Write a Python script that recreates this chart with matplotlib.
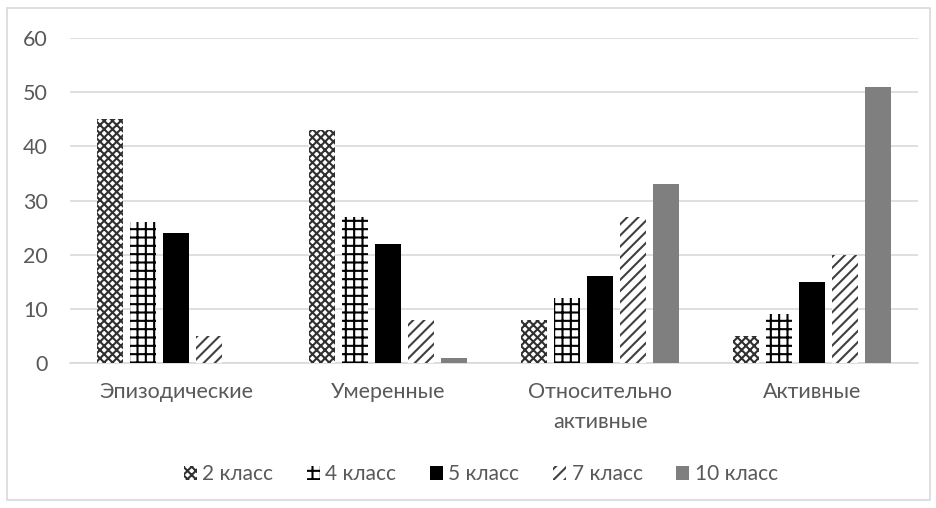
import matplotlib
matplotlib.use("Agg")
import matplotlib.pyplot as plt
from matplotlib.patches import Rectangle
import numpy as np

categories = ["Эпизодические", "Умеренные", "Относительно\nактивные", "Активные"]
series_names = ["2 класс", "4 класс", "5 класс", "7 класс", "10 класс"]
v2 = [45, 43, 8, 5]
v4 = [26, 27, 12, 9]
v5 = [24, 22, 16, 15]
v7 = [5, 8, 27, 20]
v10 = [0, 1, 33, 51]
yticks = [0, 10, 20, 30, 40, 50, 60]

values = [v2, v4, v5, v7, v10]
styles = [
    dict(facecolor="white", edgecolor="#303030", hatch="xxxx"),
    dict(facecolor="white", edgecolor="black", hatch="++"),
    dict(facecolor="black", edgecolor="black", hatch=None),
    dict(facecolor="white", edgecolor="#404040", hatch="///"),
    dict(facecolor="#7f7f7f", edgecolor="#7f7f7f", hatch=None),
]

plt.rcParams["font.family"] = ["Lato", "DejaVu Sans"]
plt.rcParams["hatch.linewidth"] = 1.5

fig = plt.figure(figsize=(9.37, 5.08), dpi=100)
ax = fig.add_axes([0.0747, 0.2854, 0.9053, 0.6396])

x = np.arange(len(categories))
step = 0.1557
width = 0.1226
for i, (vals, st) in enumerate(zip(values, styles)):
    ax.bar(x + (i - 2) * step, vals, width, label=series_names[i],
           linewidth=0, zorder=3, **st)

ax.set_ylim(0, 60)
ax.set_xlim(-0.5, 3.5)
ax.set_yticks(yticks)
ax.set_xticks(x)
ax.set_xticklabels(categories, linespacing=1.6)
ax.tick_params(axis="both", length=0, labelsize=15.5, colors="#595959")
ax.tick_params(axis="y", pad=16)
ax.tick_params(axis="x", pad=14)
ax.grid(axis="y", color="#d9d9d9", linewidth=1.2, zorder=0)
for s in ["top", "right", "left"]:
    ax.spines[s].set_visible(False)
ax.spines["bottom"].set_color("#d9d9d9")
ax.spines["bottom"].set_linewidth(1.2)

leg = fig.legend(loc="center", bbox_to_anchor=(0.513, 0.066), ncol=5,
                 frameon=False, fontsize=15, handlelength=0.65,
                 handleheight=0.65, handletextpad=0.25, columnspacing=1.6)
for t in leg.get_texts():
    t.set_color("#595959")

fig.patches.append(Rectangle((7 / 937, 8 / 508), 923 / 937, 492 / 508,
                             transform=fig.transFigure, fill=False,
                             edgecolor="#d9d9d9", linewidth=1.2))

fig.savefig("out.png", dpi=100)
